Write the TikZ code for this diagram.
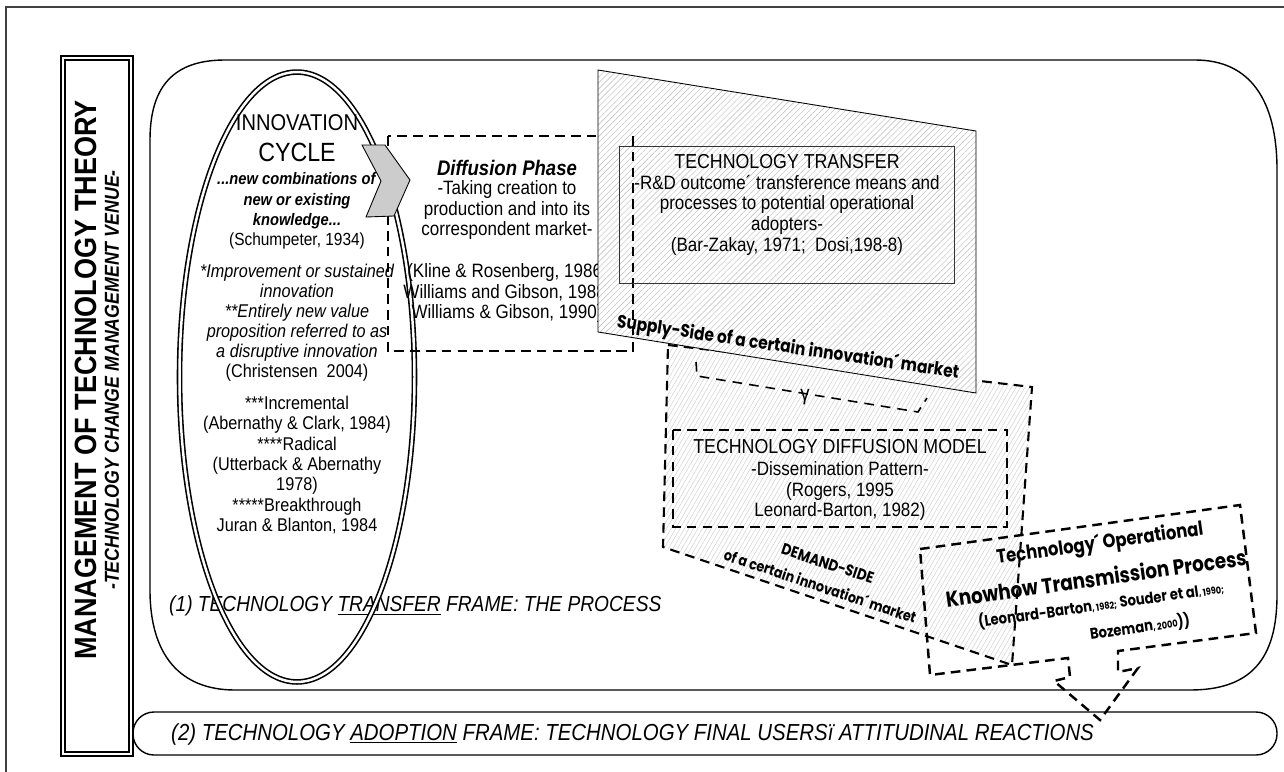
\documentclass[tikz,border=0pt]{standalone}
\usepackage{fontspec}
\setmainfont[FakeStretch=0.88]{Liberation Sans}
\newfontfamily\geofont[FakeStretch=0.85]{Poppins}
\usetikzlibrary{shapes.geometric,patterns.meta}
\newcommand\fs[2]{\fontsize{#1}{#2}\selectfont}
\tikzset{
  dashbox/.style={draw, line width=1.4pt, dash pattern=on 5.5pt off 3.5pt},
  thindash/.style={draw, line width=0.9pt, dash pattern=on 5.5pt off 4pt},
  hatchsupply/.style={pattern={Lines[angle=45,distance=2.4pt,line width=0.25pt]}, pattern color=gray!55},
  hatchdemand/.style={pattern={Lines[angle=60,distance=2.2pt,line width=0.25pt]}, pattern color=gray!40},
  txt/.style={align=center, inner sep=0pt},
}
\begin{document}
\begin{tikzpicture}[x=0.02cm, y=-0.02cm]
\useasboundingbox (0,0) rectangle (1284,771);
% outer frame
\draw[line width=0.8pt, black!75] (6,7) rectangle (1300,790);
% title box
\draw[double, line width=0.9pt, double distance=1.6pt] (63,58) rectangle (131,754);
\node[rotate=90, font=\bfseries\fs{17.5}{20}] (mot) at (86,380) {MANAGEMENT OF TECHNOLOGY THEORY};
\node[rotate=90, font=\bfseries\itshape\fs{11.5}{14}] (venue) at (112,380) {-TECHNOLOGY CHANGE MANAGEMENT VENUE-};
% frame (1) and frame (2)
\draw[line width=0.8pt] (225,60) -- (1195,60) .. controls (1250,60) and (1277,100) .. (1277,170)
  -- (1277,595) .. controls (1277,660) and (1250,690) .. (1190,690)
  -- (235,690) .. controls (180,690) and (150,655) .. (150,590)
  -- (150,140) .. controls (150,85) and (175,60) .. (225,60) -- cycle;
\draw[line width=0.8pt, rounded corners=0.42cm] (133,712) rectangle (1277,755);
\node[anchor=west, font=\itshape\fs{12.4}{14}] (frame1) at (163,606) {(1) TECHNOLOGY \underline{TRANSFER} FRAME: THE PROCESS};
\node[anchor=west, font=\itshape\fs{13.2}{15}] (frame2) at (165,734) {(2) TECHNOLOGY \underline{ADOPTION} FRAME: TECHNOLOGY FINAL USERSï ATTITUDINAL REACTIONS};
% innovation cycle
\node[draw, ellipse, double, line width=0.9pt, double distance=1.4pt, minimum width=4.7cm, minimum height=12.2cm] (cycle) at (297,377) {};
\node[font=\fs{13}{15}] (innov) at (297,123) {INNOVATION};
\node[font=\fs{15}{17}] (cyc) at (297,152) {CYCLE};
\node[txt, font=\fs{9.5}{11.6}] (schump) at (297,211) {\textbf{\textit{...new combinations of}}\\ \textbf{\textit{new or existing}}\\ \textbf{\textit{knowledge...}}\\ \fs{10}{11.6}(Schumpeter, 1934)};
\node[txt, font=\itshape\fs{10.5}{11.4}] (christ) at (297,323) {*Improvement or sustained\\ innovation\\ **Entirely new value\\ proposition referred to as\\ a disruptive innovation\\ \upshape (Christensen\ \ 2004)};
\node[txt, font=\fs{10.5}{11.6}] (types) at (297,465) {***Incremental\\ (Abernathy \& Clark, 1984)\\ ****Radical\\ (Utterback \& Abernathy\\ 1978)\\ *****Breakthrough\\ Juran \& Blanton, 1984};
% diffusion phase
\draw[dashbox] (388,136) rectangle (633,351);
\node[font=\bfseries\itshape\fs{12}{14}] (diffph) at (507,168) {Diffusion Phase};
\node[txt, font=\fs{11}{11.5}] (diffdesc) at (507,210) {-Taking creation to\\ production and into its\\ correspondent market-};
\node[txt, font=\fs{11}{11.5}] (diffref) at (507,293) {(Kline \& Rosenberg, 1986;\\ Williams and Gibson, 1988;\\ Williams \& Gibson, 1990)};
% demand side
\draw[dashbox, line width=1.2pt, hatchdemand] (668,345) -- (1032,387) -- (1012,665) -- (663,547) -- cycle;
% supply side
\path[fill=white] (598,70) -- (976,131) -- (976,393) -- (598,332) -- cycle;
\draw[line width=0.5pt, hatchsupply] (598,70) -- (976,131) -- (976,393) -- (598,332) -- cycle;
\draw[dashbox] (633,136) -- (633,351) -- (600,351);
\draw[line width=0.5pt, black!80] (619,146) rectangle (954,283);
\node[font=\fs{11.5}{14}] (tt) at (787,162) {TECHNOLOGY TRANSFER};
\node[txt, font=\fs{11}{11.8}] (ttdesc) at (787,215) {-R\&D outcome´ transference means and\\ processes to potential operational\\ adopters-\\ (Bar-Zakay, 1971;\ \ Dosi,198-8)};
\node[font=\geofont\bfseries\fs{10.3}{12}, rotate=-8.5] (supply) at (788,348) {Supply-Side of a certain innovation´ market};
% gamma bracket
\draw[thindash] (696,362) -- (697,376) -- (918,412) -- (927,398);
\node[font=\fs{12}{12}] (gam) at (805,397) {γ};
% diffusion model
\draw[dashbox] (673,430) rectangle (1007,527);
\node[font=\fs{11.5}{14}] (tdm) at (840,447) {TECHNOLOGY DIFFUSION MODEL};
\node[txt, font=\fs{11}{11.8}] (tdmdesc) at (840,491) {-Dissemination Pattern-\\ (Rogers, 1995\\ Leonard-Barton, 1982)};
\node[txt, font=\geofont\bfseries\fs{9}{13.6}, rotate=-18.5] (demand) at (824,575) {DEMAND-SIDE\\ {\fs{8.5}{13.6}of a certain innovation´ market}};
% knowhow transmission
\draw[dashbox] (920,549) -- (1240,505) -- (1256,633) -- (1118,651) -- (1118,672) -- (1138,668)
  -- (1100,720) -- (1054,681) -- (1070,677) -- (1068,658) -- (930,675) -- cycle;
\node[font=\geofont\bfseries\fs{11}{13}, rotate=8, inner sep=0pt] (kh1) at (1100,544) {Technology´ Operational};
\node[font=\geofont\bfseries\fs{12.3}{14}, rotate=8, inner sep=0pt] (kh2) at (1096,578) {Knowhow Transmission Process};
\node[font=\geofont\bfseries\fs{8.8}{10}, rotate=8, inner sep=0pt] (kh3) at (1101,605) {(Leonard-Barton{\fs{5.5}{7}, 1982;} Souder et al{\fs{5.5}{7}, 1990;}};
\node[font=\geofont\bfseries\fs{8.8}{10}, rotate=8, inner sep=0pt] (kh4) at (1140,627) {Bozeman{\fs{5.5}{7}, 2000}))};
% chevron
\filldraw[fill=gray!40, draw=black, line width=0.5pt] (362,145) -- (385,145) -- (410,180) -- (394,216) -- (366,217) -- (381,181) -- cycle;
\end{tikzpicture}
\end{document}
